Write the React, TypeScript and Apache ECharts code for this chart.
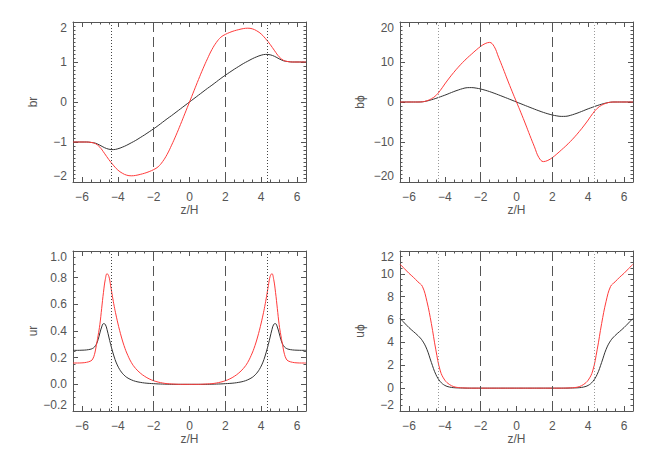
import React, { useEffect, useRef } from "react";
import * as echarts from "echarts";

// ---------- data ----------
const zGrid = [
  -6.5, -6.25, -6, -5.75, -5.5, -5.25, -5, -4.75, -4.5, -4.25, -4, -3.75, -3.5, -3.25, -3, -2.75, -2.5, -2.25, -2,
  -1.75, -1.5, -1.25, -1, -0.75, -0.5, -0.25, 0, 0.25, 0.5, 0.75, 1, 1.25, 1.5, 1.75, 2, 2.25, 2.5, 2.75, 3, 3.25,
  3.5, 3.75, 4, 4.25, 4.5, 4.75, 5, 5.25, 5.5, 5.75, 6, 6.25, 6.5,
];

const brBlack = [
  -1.0, -1.0, -1.0, -1.0, -1.01, -1.03, -1.08, -1.14, -1.18, -1.19, -1.17, -1.13, -1.08, -1.02, -0.96, -0.89, -0.82,
  -0.745, -0.67, -0.59, -0.505, -0.42, -0.34, -0.255, -0.17, -0.085, 0, 0.085, 0.17, 0.255, 0.34, 0.42, 0.505, 0.59,
  0.67, 0.745, 0.82, 0.89, 0.96, 1.02, 1.08, 1.13, 1.17, 1.19, 1.18, 1.14, 1.08, 1.03, 1.01, 1.0, 1.0, 1.0, 1.0,
];
const brRed = [
  -1.0, -1.0, -1.0, -1.0, -1.01, -1.04, -1.13, -1.28, -1.44, -1.58, -1.7, -1.78, -1.83, -1.845, -1.835, -1.81, -1.78,
  -1.74, -1.69, -1.62, -1.49, -1.31, -1.08, -0.83, -0.56, -0.28, 0, 0.28, 0.56, 0.83, 1.08, 1.31, 1.49, 1.62, 1.69,
  1.74, 1.78, 1.81, 1.835, 1.845, 1.83, 1.78, 1.7, 1.58, 1.44, 1.28, 1.13, 1.04, 1.01, 1.0, 1.0, 1.0, 1.0,
];

const bphiBlack = [
  0, 0, 0, 0, 0, 0.05, 0.25, 0.55, 0.9, 1.3, 1.7, 2.15, 2.6, 3.0, 3.35, 3.58, 3.6, 3.47, 3.25, 2.95, 2.6, 2.2, 1.78,
  1.34, 0.9, 0.45, 0, -0.45, -0.9, -1.34, -1.78, -2.2, -2.6, -2.95, -3.25, -3.47, -3.6, -3.58, -3.35, -3.0, -2.6,
  -2.15, -1.7, -1.3, -0.9, -0.55, -0.25, -0.05, 0, 0, 0, 0, 0,
];
const bphiRed = [
  0, 0, 0, 0, 0, 0.05, 0.3, 0.8, 1.6, 2.9, 4.5, 6.0, 7.4, 8.7, 9.9, 11.0, 12.0, 13.0, 13.9, 14.6, 14.9, 13.9, 11.2,
  8.4, 5.5, 2.7, 0, -2.7, -5.5, -8.4, -11.2, -13.9, -14.9, -14.6, -13.9, -13.0, -12.0, -11.0, -9.9, -8.7, -7.4, -6.0,
  -4.5, -2.9, -1.6, -0.8, -0.3, -0.05, 0, 0, 0, 0, 0,
];

const uphiBlack = [
  6.1, 5.7, 5.3, 4.95, 4.6, 4.15, 3.4, 2.25, 1.2, 0.57, 0.24, 0.1, 0.04, 0.02, 0.01, 0, 0, 0, 0, 0, 0, 0, 0, 0, 0, 0,
  0, 0, 0, 0, 0, 0, 0, 0, 0, 0, 0, 0, 0.01, 0.02, 0.04, 0.1, 0.24, 0.57, 1.2, 2.25, 3.4, 4.15, 4.6, 4.95, 5.3, 5.7,
  6.1,
];
const uphiRed = [
  10.85, 10.45, 10.05, 9.7, 9.3, 8.9, 7.6, 5.65, 3.35, 1.5, 0.7, 0.33, 0.13, 0.05, 0.02, 0.01, 0, 0, 0, 0, 0, 0, 0, 0,
  0, 0, 0, 0, 0, 0, 0, 0, 0, 0, 0, 0, 0, 0.01, 0.02, 0.05, 0.13, 0.33, 0.7, 1.5, 3.35, 5.65, 7.6, 8.9, 9.3, 9.7,
  10.05, 10.45, 10.85,
];

const zUr = [
  -6.5, -6.25, -6, -5.75, -5.5, -5.4, -5.3, -5.2, -5.1, -5, -4.9, -4.8, -4.7, -4.6, -4.5, -4.4, -4.3, -4.2, -4.1, -4,
  -3.9, -3.8, -3.7, -3.6, -3.5, -3.25, -3, -2.75, -2.5, -2.25, -2, -1.75, -1.5, -1.25, -1, -0.75, -0.5, -0.25, 0,
  0.25, 0.5, 0.75, 1, 1.25, 1.5, 1.75, 2, 2.25, 2.5, 2.75, 3, 3.25, 3.5, 3.6, 3.7, 3.8, 3.9, 4, 4.1, 4.2, 4.3, 4.4,
  4.5, 4.6, 4.7, 4.8, 4.9, 5, 5.1, 5.2, 5.3, 5.4, 5.5, 5.75, 6, 6.25, 6.5,
];
const urBlack = [
  0.255, 0.255, 0.256, 0.258, 0.264, 0.27, 0.28, 0.3, 0.335, 0.385, 0.43, 0.455, 0.45, 0.41, 0.355, 0.3, 0.25, 0.205,
  0.167, 0.137, 0.112, 0.092, 0.076, 0.063, 0.052, 0.034, 0.022, 0.015, 0.01, 0.007, 0.005, 0.003, 0.002, 0.001, 0,
  0, 0, 0, 0, 0, 0, 0, 0, 0.001, 0.002, 0.003, 0.005, 0.007, 0.01, 0.015, 0.022, 0.034, 0.052, 0.063, 0.076, 0.092,
  0.112, 0.137, 0.167, 0.205, 0.25, 0.3, 0.355, 0.41, 0.45, 0.455, 0.43, 0.385, 0.335, 0.3, 0.28, 0.27, 0.264, 0.258,
  0.256, 0.255, 0.255,
];
const urRed = [
  0.16, 0.16, 0.161, 0.165, 0.176, 0.19, 0.225, 0.29, 0.365, 0.45, 0.57, 0.69, 0.785, 0.83, 0.81, 0.74, 0.66, 0.585,
  0.52, 0.46, 0.405, 0.355, 0.31, 0.27, 0.235, 0.165, 0.118, 0.085, 0.06, 0.041, 0.027, 0.017, 0.01, 0.005, 0.003,
  0.001, 0, 0, 0, 0, 0, 0.001, 0.003, 0.005, 0.01, 0.017, 0.027, 0.041, 0.06, 0.085, 0.118, 0.165, 0.235, 0.27, 0.31,
  0.355, 0.405, 0.46, 0.52, 0.585, 0.66, 0.74, 0.81, 0.83, 0.785, 0.69, 0.57, 0.45, 0.365, 0.29, 0.225, 0.19, 0.176,
  0.165, 0.161, 0.16, 0.16,
];

const xMajorTicks = [-6, -4, -2, 0, 2, 4, 6];
const dashedZ = [-2, 2];
const dottedZ = [-4.35, 4.35];

const panelNames = ["br", "b\u03d5", "ur", "u\u03d5"];
const panelZ = [zGrid, zGrid, zUr, zGrid];
const panelBlack = [brBlack, bphiBlack, urBlack, uphiBlack];
const panelRed = [brRed, bphiRed, urRed, uphiRed];
const yMins = [-2, -20, -0.2, -2];
const yMaxs = [2, 20, 1.0, 12];
const yIntervals = [1, 10, 0.2, 2];
const yMinorSplits = [10, 10, 4, 4];
const yDecimals = [0, 0, 1, 0];

// ---------- styling ----------
const FONT = "'Liberation Sans', Arial, Helvetica, sans-serif";
const AX = "#555";
const TXT = "#555";
const BLACK_LINE = "#333";
const RED_LINE = "#ff3b3b";
const dotColors = ["#444", "#999", "#444", "#999"];
const gridBoxes = [
  { left: 73, top: 22, width: 233, height: 160 },
  { left: 400, top: 22, width: 233, height: 160 },
  { left: 73, top: 251, width: 233, height: 160 },
  { left: 400, top: 251, width: 233, height: 160 },
];

const minus = (s: string) => s.replace("-", "\u2212");

function buildOption() {
  const grid: any[] = [];
  const xAxis: any[] = [];
  const yAxis: any[] = [];
  const series: any[] = [];
  const lineStyle = { color: AX, width: 1 };
  const labelStyle = { color: TXT, fontSize: 12, fontFamily: FONT };

  for (let i = 0; i < 4; i++) {
    grid.push({ ...gridBoxes[i], containLabel: false });
    for (const pos of ["bottom", "top"]) {
      const isBottom = pos === "bottom";
      xAxis.push({
        gridIndex: i,
        type: "value",
        position: pos,
        min: -6.5,
        max: 6.5,
        name: isBottom ? "z/H" : "",
        nameLocation: "middle",
        nameGap: 22,
        nameTextStyle: { ...labelStyle },
        axisLine: { show: true, onZero: false, lineStyle },
        axisTick: { show: true, inside: true, length: 5, customValues: xMajorTicks, lineStyle },
        axisLabel: isBottom
          ? {
              show: true,
              customValues: xMajorTicks,
              margin: 9,
              ...labelStyle,
              formatter: (v: number) => minus(String(Math.round(v))),
            }
          : { show: false },
        splitLine: { show: false },
      });
      xAxis.push({
        gridIndex: i,
        type: "value",
        position: pos,
        min: -6.5,
        max: 6.5,
        interval: 0.5,
        axisLine: { show: false, onZero: false },
        axisTick: { show: true, inside: true, length: 2.5, lineStyle },
        axisLabel: { show: false },
        splitLine: { show: false },
      });
    }
    for (const pos of ["left", "right"]) {
      const isLeft = pos === "left";
      yAxis.push({
        gridIndex: i,
        type: "value",
        position: pos,
        min: yMins[i],
        max: yMaxs[i],
        interval: yIntervals[i],
        name: isLeft ? panelNames[i] : "",
        nameLocation: "middle",
        nameGap: 34,
        nameTextStyle: { ...labelStyle },
        axisLine: { show: true, onZero: false, lineStyle },
        axisTick: { show: true, inside: true, length: 5, lineStyle },
        minorTick: { show: true, splitNumber: yMinorSplits[i], length: 2.5, lineStyle },
        axisLabel: isLeft
          ? {
              show: true,
              margin: 6,
              ...labelStyle,
              verticalAlignMinLabel: "bottom",
              verticalAlignMaxLabel: "top",
              formatter: (v: number) => minus(v.toFixed(yDecimals[i])),
            }
          : { show: false },
        splitLine: { show: false },
        minorSplitLine: { show: false },
      });
    }

    const z = panelZ[i];
    const markData = [
      ...dashedZ.map((v) => ({ xAxis: v, lineStyle: { type: [10, 5], color: "#555", width: 1 } })),
      ...dottedZ.map((v) => ({ xAxis: v, lineStyle: { type: [1, 2], color: dotColors[i], width: 1 } })),
    ];
    series.push({
      type: "line",
      xAxisIndex: i * 4,
      yAxisIndex: i * 2,
      data: z.map((zz, k) => [zz, panelBlack[i][k]]),
      showSymbol: false,
      smooth: 0.4,
      lineStyle: { color: BLACK_LINE, width: 1 },
      silent: true,
      markLine: {
        silent: true,
        symbol: ["none", "none"],
        label: { show: false },
        emphasis: { disabled: true },
        data: markData,
      },
    });
    series.push({
      type: "line",
      xAxisIndex: i * 4,
      yAxisIndex: i * 2,
      data: z.map((zz, k) => [zz, panelRed[i][k]]),
      showSymbol: false,
      smooth: 0.4,
      lineStyle: { color: RED_LINE, width: 1 },
      silent: true,
    });
  }

  return {
    animation: false,
    backgroundColor: "#fff",
    grid,
    xAxis,
    yAxis,
    series,
  };
}

export default function App() {
  const ref = useRef<HTMLDivElement>(null);
  useEffect(() => {
    if (!ref.current) return;
    const chart = echarts.init(ref.current, null, { renderer: "svg" });
    chart.setOption(buildOption() as any);
    return () => chart.dispose();
  }, []);
  return (
    <div
      ref={ref}
      style={{ position: "absolute", left: 0, top: 0, width: 654, height: 458, background: "#fff" }}
    />
  );
}
